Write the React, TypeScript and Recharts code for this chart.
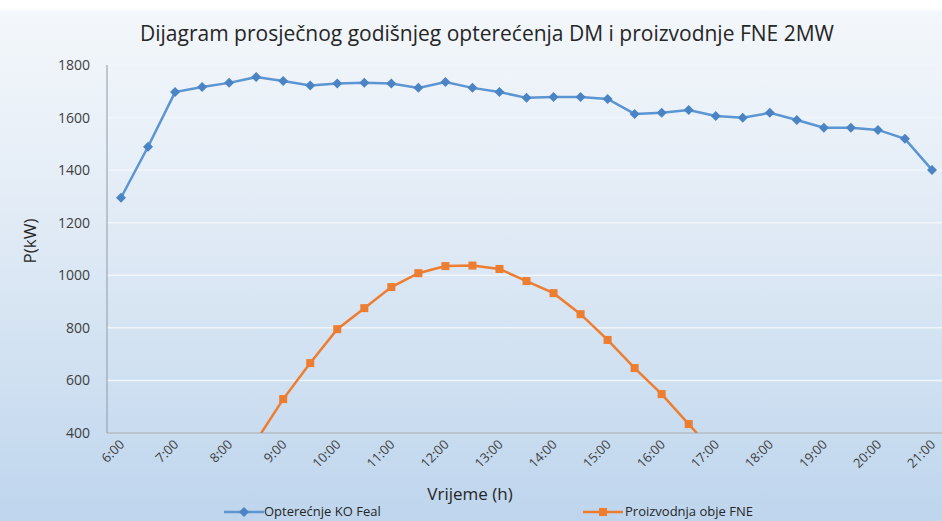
import { LineChart, Line, XAxis, YAxis, CartesianGrid } from "recharts";

// half-hour steps, 6:00 - 21:00
const times = [
  "6:00", "6:30", "7:00", "7:30", "8:00", "8:30", "9:00", "9:30", "10:00", "10:30",
  "11:00", "11:30", "12:00", "12:30", "13:00", "13:30", "14:00", "14:30", "15:00", "15:30",
  "16:00", "16:30", "17:00", "17:30", "18:00", "18:30", "19:00", "19:30", "20:00", "20:30", "21:00",
];

// Opterećnje KO Feal (kW)
const loadKW = [
  1295, 1489, 1697, 1716, 1732, 1754, 1739, 1722, 1730, 1732,
  1730, 1713, 1735, 1713, 1697, 1675, 1678, 1678, 1671, 1614,
  1618, 1629, 1606, 1599, 1618, 1591, 1561, 1561, 1553, 1519, 1401,
];

// Proizvodnja obje FNE (kW) - values under 400 fall outside the plot
const solarKW = [
  0, 0, 40, 120, 240, 370, 529, 666, 795, 875,
  955, 1008, 1035, 1037, 1024, 978, 932, 852, 754, 647,
  548, 434, 320, 200, 100, 30, 0, 0, 0, 0, 0,
];

const yTicks = [400, 600, 800, 1000, 1200, 1400, 1600, 1800];

const data = times.map((t, i) => ({ time: t, load: loadKW[i], solar: solarKW[i] }));

const FONT = "'Open Sans', 'Liberation Sans', sans-serif";
const BLUE = "#5b95d2";
const BLUE_DOT = "#4b84c4";
const ORANGE = "#ed7d31";

const Diamond = (props: any) => {
  const { cx, cy, index } = props;
  if (cx == null || cy == null) return <g key={`d-${index}`} />;
  const r = 5;
  return (
    <path
      key={`d-${index}`}
      d={`M${cx},${cy - r}L${cx + r},${cy}L${cx},${cy + r}L${cx - r},${cy}Z`}
      fill={BLUE_DOT}
    />
  );
};

const Square = (props: any) => {
  const { cx, cy, index } = props;
  if (cx == null || cy == null) return <g key={`s-${index}`} />;
  const r = 4;
  return <rect key={`s-${index}`} x={cx - r} y={cy - r} width={r * 2} height={r * 2} fill={ORANGE} />;
};

const TimeTick = (props: any) => {
  const { x, y, payload } = props;
  return (
    <g transform={`translate(${x},${y})`}>
      <text
        x={0}
        y={0}
        dy={6}
        textAnchor="end"
        transform="rotate(-45)"
        fontSize={13}
        fontFamily={FONT}
        fill="#404040"
      >
        {payload.value}
      </text>
    </g>
  );
};

const App = () => {
  return (
    <div
      style={{
        position: "absolute",
        top: 0,
        left: 0,
        width: 942,
        height: 521,
        overflow: "hidden",
        background:
          "linear-gradient(to bottom, #ffffff 0px, #ffffff 8px, #f3f7fb 12px, #e3ecf6 200px, #cfe0f1 380px, #bed5ed 521px)",
        fontFamily: FONT,
      }}
    >
      <div
        style={{
          position: "absolute",
          top: 19,
          left: 0,
          width: 974,
          textAlign: "center",
          fontSize: 21,
          color: "#262626",
        }}
      >
        Dijagram prosječnog godišnjeg opterećenja DM i proizvodnje FNE 2MW
      </div>

      <LineChart
        width={942}
        height={521}
        data={data}
        margin={{ top: 65, right: 0, bottom: 0, left: 0 }}
        style={{ position: "absolute", top: 0, left: 0 }}
      >
        <CartesianGrid vertical={false} stroke="#f2f6fb" strokeWidth={1.5} />
        <XAxis
          dataKey="time"
          interval={1}
          height={88}
          padding={{ left: 14, right: 10 }}
          tick={<TimeTick />}
          tickLine={false}
          axisLine={{ stroke: "#8e9aa6" }}
          label={{
            content: (p: any) => {
              const vb = p.viewBox;
              return (
                <text
                  x={470}
                  y={vb.y + 67}
                  textAnchor="middle"
                  fontSize={17}
                  fontFamily={FONT}
                  fill="#262626"
                >
                  Vrijeme (h)
                </text>
              );
            },
          }}
        />
        <YAxis
          width={107}
          domain={[400, 1800]}
          ticks={yTicks}
          allowDataOverflow
          tickLine={false}
          tickMargin={11}
          axisLine={{ stroke: "#8e9aa6" }}
          tick={{ fontSize: 14, fontFamily: FONT, fill: "#404040" }}
          label={{
            content: (p: any) => {
              const vb = p.viewBox;
              const cx = 31;
              const cy = vb.y + vb.height / 2 - 8;
              return (
                <text
                  x={cx}
                  y={cy}
                  transform={`rotate(-90 ${cx} ${cy})`}
                  textAnchor="middle"
                  dominantBaseline="middle"
                  fontSize={17}
                  fontFamily={FONT}
                  fill="#262626"
                >
                  P(kW)
                </text>
              );
            },
          }}
        />
        <Line
          dataKey="load"
          stroke={BLUE}
          strokeWidth={2.5}
          dot={Diamond}
          activeDot={false}
          isAnimationActive={false}
        />
        <Line
          dataKey="solar"
          stroke={ORANGE}
          strokeWidth={2.5}
          dot={Square}
          activeDot={false}
          isAnimationActive={false}
        />
      </LineChart>

      <div
        style={{
          position: "absolute",
          top: 502,
          left: 0,
          width: 942,
          height: 19,
          fontSize: 13,
          lineHeight: "18px",
          color: "#262626",
        }}
      >
        <svg width={40} height={12} style={{ position: "absolute", left: 224, top: 4 }}>
          <line x1={0} y1={6} x2={40} y2={6} stroke={BLUE} strokeWidth={2.5} />
          <path d="M20,1L25,6L20,11L15,6Z" fill={BLUE_DOT} />
        </svg>
        <span style={{ position: "absolute", left: 264, top: 0 }}>Opterećnje KO Feal</span>
        <svg width={40} height={12} style={{ position: "absolute", left: 583, top: 4 }}>
          <line x1={0} y1={6} x2={40} y2={6} stroke={ORANGE} strokeWidth={2.5} />
          <rect x={16} y={2} width={8} height={8} fill={ORANGE} />
        </svg>
        <span style={{ position: "absolute", left: 625, top: 0 }}>Proizvodnja obje FNE</span>
      </div>
    </div>
  );
};

export default App;
